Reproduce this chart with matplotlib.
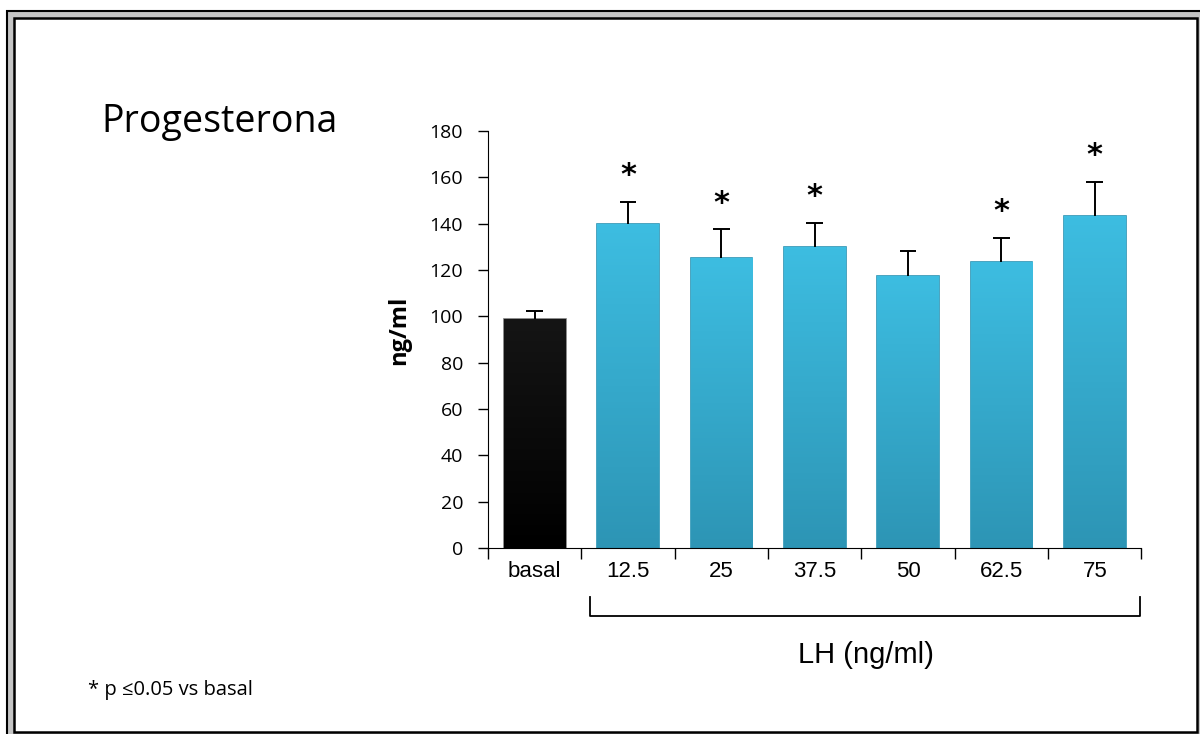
import numpy as np
import matplotlib.pyplot as plt
from matplotlib.colors import LinearSegmentedColormap
from matplotlib.patches import Rectangle
from matplotlib.lines import Line2D

categories = ['basal', '12.5', '25', '37.5', '50', '62.5', '75']
means = [99, 140, 125, 130, 117.5, 123.5, 143.5]
errors = [3.5, 9.5, 12.5, 10.5, 10.5, 10.5, 14.5]
significant = [False, True, True, True, False, True, True]
yticks = [0, 20, 40, 60, 80, 100, 120, 140, 160, 180]

plt.rcParams['font.family'] = ['Open Sans', 'DejaVu Sans']

fig = plt.figure(figsize=(12, 7.34), dpi=100)

# frame: grey band with black lines, white panel inside
fig.add_artist(Rectangle((7 / 1200, -0.01), 1.02, 1 - 11 / 734 + 0.01, transform=fig.transFigure,
                         facecolor='#c4c4c4', edgecolor='black', lw=1.5, zorder=0))
fig.add_artist(Rectangle((14 / 1200, 2 / 734), 1183 / 1200, 714 / 734, transform=fig.transFigure,
                         facecolor='white', edgecolor='black', lw=1.8, zorder=0))

ax = fig.add_axes([0.4067, 0.2534, 0.5445, 0.5681])
ax.patch.set_alpha(0)

x = np.arange(len(categories))
colors = ['#050505'] + ['#3AB5D9'] * (len(categories) - 1)
edges = ['#777777'] + ['#2A94B4'] * (len(categories) - 1)
bars = ax.bar(x, means, width=0.66, color=colors, edgecolor=edges, linewidth=1.2, zorder=2)

# vertical shading on the bars (lighter top, darker bottom)
black_cmap = LinearSegmentedColormap.from_list('k', ['#000000', '#151515'])
blue_cmap = LinearSegmentedColormap.from_list('c', ['#2D95B5', '#3DBDE1'])
for i, b in enumerate(bars):
    cmap = black_cmap if i == 0 else blue_cmap
    grad = np.linspace(0, 1, 100).reshape(-1, 1)
    x0, w, h = b.get_x(), b.get_width(), b.get_height()
    im = ax.imshow(grad, cmap=cmap, aspect='auto', origin='lower',
                   extent=[x0, x0 + w, 0, h], zorder=2.5)
    im.set_clip_path(b)

# upper error bars only
tops = np.array(means) + np.array(errors)
ax.vlines(x, means, tops, color='black', lw=1.4, zorder=3)
ax.hlines(tops, x - 0.09, x + 0.09, color='black', lw=1.4, zorder=3)

for xi, t, s in zip(x, tops, significant):
    if s:
        ax.text(xi, t + 5, '*', ha='center', va='bottom', fontsize=22,
                fontweight='bold', family='DejaVu Sans')

ax.set_xlim(-0.5, len(categories) - 0.5)
ax.set_ylim(0, 180)
ax.set_yticks(yticks)
ax.tick_params(axis='y', direction='out', length=7, width=1, labelsize=14, pad=11)

ax.set_xticks(np.arange(-0.5, len(categories)), minor=False)
ax.set_xticklabels([])
ax.set_xticks(x, minor=True)
ax.set_xticklabels(categories, minor=True, family='Liberation Sans', fontsize=16)
ax.tick_params(axis='x', which='major', direction='out', length=8, width=1)
ax.tick_params(axis='x', which='minor', length=0, pad=9)

for s in ['top', 'right']:
    ax.spines[s].set_visible(False)

ax.set_ylabel('ng/ml', fontsize=17, fontweight='bold')
ax.yaxis.set_label_coords(-0.118, 0.523)

# bracket under the LH doses
bx0, bx1 = 590 / 1200, 1140 / 1200
by0, by1 = 1 - 597 / 734, 1 - 616 / 734
fig.add_artist(Line2D([bx0, bx0, bx1, bx1], [by0, by1, by1, by0], color='black', lw=1.3))
fig.text(866 / 1200, 1 - 655 / 734, 'LH (ng/ml)', ha='center', va='center',
         fontsize=21, family='Liberation Sans')

fig.text(101 / 1200, 1 - 132 / 734, 'Progesterona', ha='left', va='baseline', fontsize=27)
fig.text(88 / 1200, 1 - 690 / 734, '* p ≤0.05 vs basal', ha='left', va='center', fontsize=14.5)

fig.savefig('out.png', dpi=100)
